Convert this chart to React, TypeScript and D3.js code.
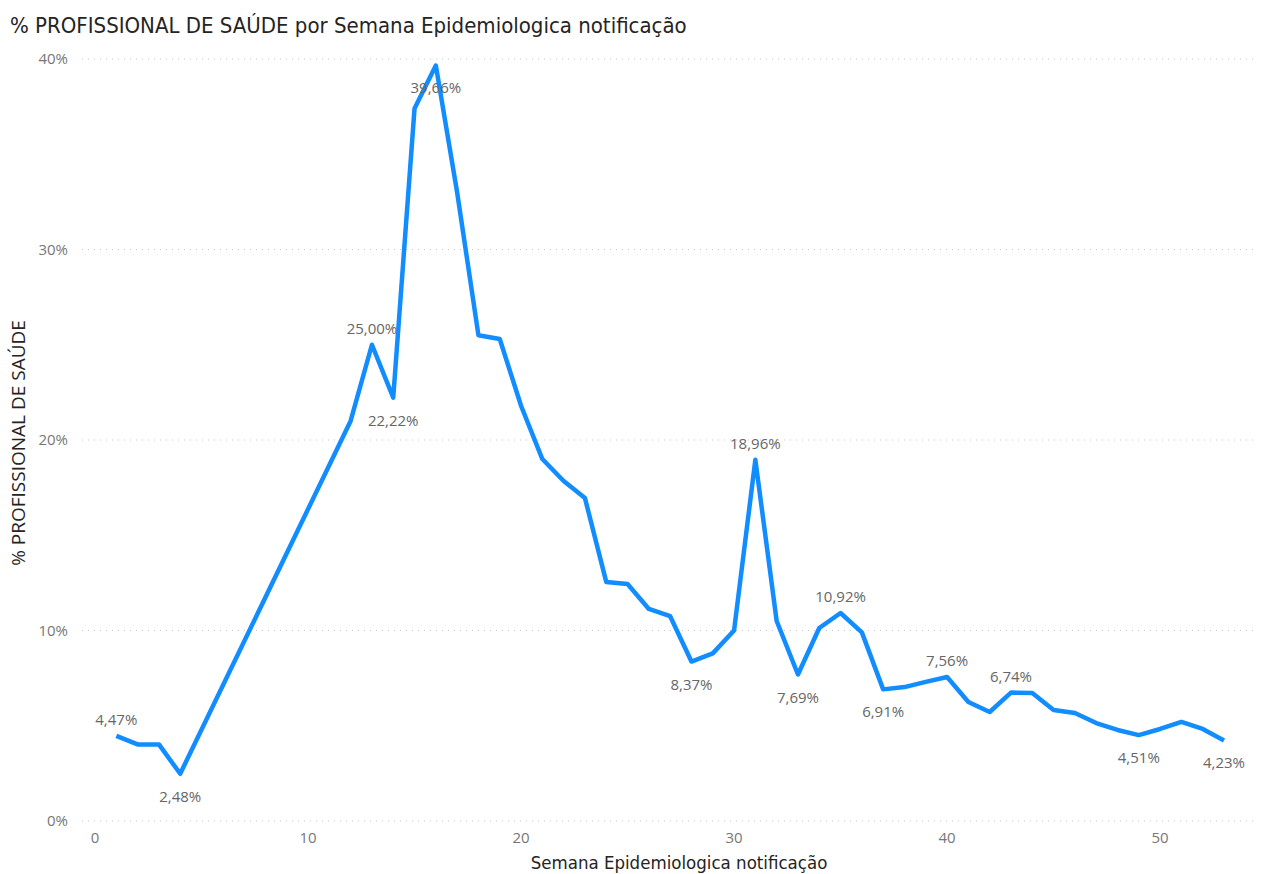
import * as d3 from "d3";
import { useRef, useEffect } from "react";

// semana epidemiologica (weeks 5-11 have no data)
const weeks = [
  1, 2, 3, 4, 12, 13, 14, 15, 16, 17, 18, 19, 20, 21, 22, 23, 24, 25, 26, 27,
  28, 29, 30, 31, 32, 33, 34, 35, 36, 37, 38, 39, 40, 41, 42, 43, 44, 45, 46,
  47, 48, 49, 50, 51, 52, 53,
];
// % profissional de saude
const pctSaude = [
  4.47, 4.02, 4.02, 2.48, 21.0, 25.0, 22.22, 37.4, 39.66, 33.0, 25.5, 25.3,
  21.8, 19.0, 17.85, 16.95, 12.55, 12.44, 11.13, 10.75, 8.37, 8.8, 10.0, 18.96,
  10.5, 7.69, 10.13, 10.92, 9.9, 6.91, 7.03, 7.3, 7.56, 6.25, 5.72, 6.74, 6.72,
  5.83, 5.67, 5.14, 4.78, 4.51, 4.83, 5.2, 4.83, 4.23,
];
// weeks with a data label, and which of those sit below the line
const labeledWeeks = [1, 4, 13, 14, 16, 28, 31, 33, 35, 37, 40, 43, 49, 53];
const labelsBelow = [4, 14, 16, 28, 33, 37, 49, 53];
const xTicks = [0, 10, 20, 30, 40, 50];
const yTicks = [0, 10, 20, 30, 40];

const W = 1271;
const H = 874;

const fmtPct = (v: number) => d3.format(".2f")(v).replace(".", ",") + "%";

const App = () => {
  const ref = useRef<SVGSVGElement>(null);

  useEffect(() => {
    const svg = d3.select(ref.current);
    svg.selectAll("*").remove();

    const x = d3.scaleLinear().domain([0, 53]).range([95, 1224]);
    const y = d3.scaleLinear().domain([0, 40]).range([821, 59]);

    const data = weeks.map((w, i) => ({ w, v: pctSaude[i] }));

    // title
    svg.append("text")
      .attr("x", 10)
      .attr("y", 33)
      .attr("font-family", "'DejaVu Sans Condensed', sans-serif")
      .attr("font-size", 22)
      .attr("fill", "#252423")
      .text("% PROFISSIONAL DE SAÚDE por Semana Epidemiologica notificação");

    // gridlines
    svg.append("g")
      .selectAll("line")
      .data(yTicks)
      .join("line")
      .attr("x1", 82)
      .attr("x2", 1256)
      .attr("y1", d => y(d))
      .attr("y2", d => y(d))
      .attr("stroke", "#c8c8c8")
      .attr("stroke-width", 1)
      .attr("stroke-dasharray", "1,5");

    // y tick labels
    svg.append("g")
      .selectAll("text")
      .data(yTicks)
      .join("text")
      .attr("x", 68)
      .attr("y", d => y(d) + 5)
      .attr("text-anchor", "end")
      .attr("font-family", "'Open Sans', sans-serif")
      .attr("font-size", 15)
      .attr("fill", "#777")
      .text(d => d + "%");

    // x tick labels
    svg.append("g")
      .selectAll("text")
      .data(xTicks)
      .join("text")
      .attr("x", d => x(d))
      .attr("y", 843)
      .attr("text-anchor", "middle")
      .attr("font-family", "'Open Sans', sans-serif")
      .attr("font-size", 15)
      .attr("fill", "#777")
      .text(d => d);

    // axis titles
    svg.append("text")
      .attr("x", 679)
      .attr("y", 869)
      .attr("text-anchor", "middle")
      .attr("font-family", "'DejaVu Sans Condensed', sans-serif")
      .attr("font-size", 18.5)
      .attr("fill", "#252423")
      .text("Semana Epidemiologica notificação");

    svg.append("text")
      .attr("transform", "translate(25,443) rotate(-90)")
      .attr("text-anchor", "middle")
      .attr("font-family", "'Open Sans', sans-serif")
      .attr("font-size", 19)
      .attr("fill", "#252423")
      .text("% PROFISSIONAL DE SAÚDE");

    // line
    const line = d3.line<{ w: number; v: number }>()
      .x(d => x(d.w))
      .y(d => y(d.v));

    svg.append("path")
      .datum(data)
      .attr("fill", "none")
      .attr("stroke", "#118DFF")
      .attr("stroke-width", 4.5)
      .attr("stroke-linejoin", "round")
      .attr("d", line);

    // data labels
    svg.append("g")
      .selectAll("text")
      .data(data.filter(d => labeledWeeks.includes(d.w)))
      .join("text")
      .attr("x", d => x(d.w))
      .attr("y", d => (labelsBelow.includes(d.w) ? y(d.v) + 28 : y(d.v) - 11))
      .attr("text-anchor", "middle")
      .attr("font-family", "'Open Sans', sans-serif")
      .attr("font-size", 15)
      .attr("fill", "#666")
      .text(d => fmtPct(d.v));
  }, []);

  return (
    <div style={{ position: "absolute", left: 0, top: 0 }}>
      <svg ref={ref} width={W} height={H} style={{ display: "block" }} />
    </div>
  );
};

export default App;
